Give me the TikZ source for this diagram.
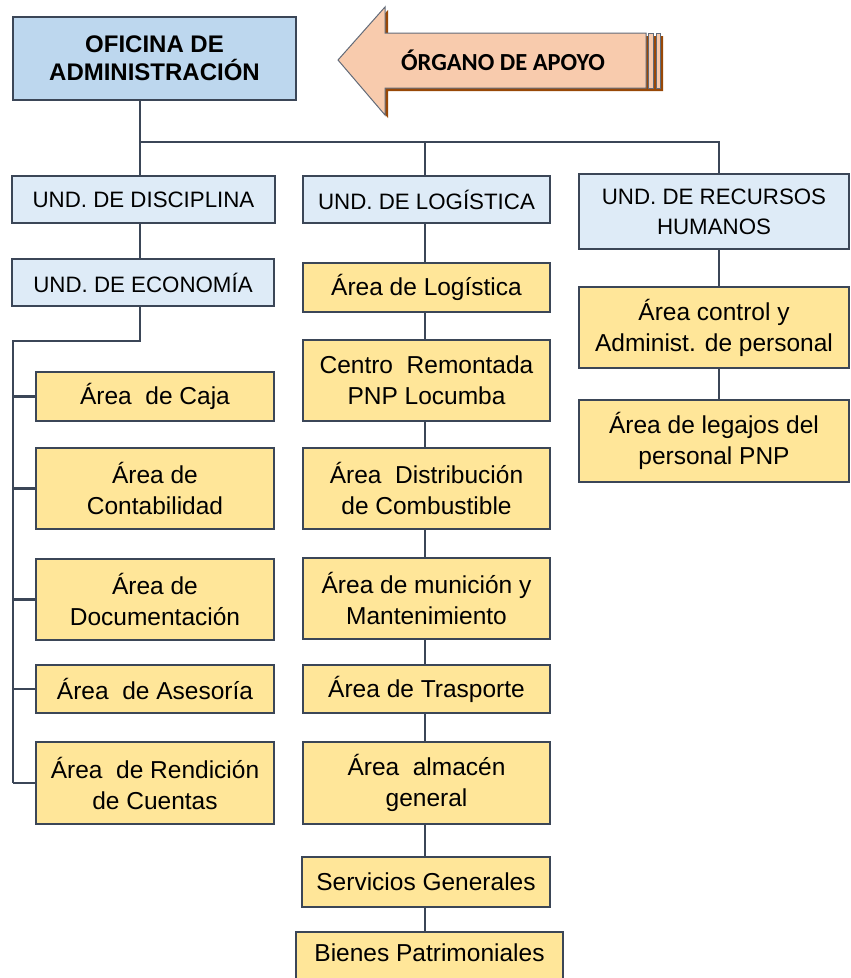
\documentclass[tikz,border=0pt]{standalone}
\usepackage{fontspec}
\setmainfont{Liberation Sans}
\newfontfamily\calibfont{Carlito}
\usepackage{xcolor}
\usetikzlibrary{positioning,calc}

\definecolor{topblue}{HTML}{BDD7EE}
\definecolor{unitblue}{HTML}{DEEBF7}
\definecolor{areayellow}{HTML}{FFE699}
\definecolor{edgegray}{HTML}{3B4657}
\definecolor{arrowpeach}{HTML}{F8CBAD}
\definecolor{arrowshadow}{HTML}{984807}

\begin{document}
\begin{tikzpicture}[
  x=1pt, y=-1pt,
  office/.style={draw=edgegray, line width=2.4pt, fill=topblue, minimum width=283pt, minimum height=83pt, inner sep=0pt, align=center, font=\fontsize{24}{28}\selectfont\bfseries},
  unit/.style={draw=edgegray, line width=1.7pt, fill=unitblue, minimum height=47pt, inner sep=0pt, align=center, font=\fontsize{22.3}{30}\selectfont},
  area/.style={draw=edgegray, line width=1.7pt, fill=areayellow, inner sep=0pt, align=center, font=\fontsize{24.5}{31}\selectfont},
  conn/.style={draw=edgegray, line width=2.8pt}
]
  \useasboundingbox (0,0) rectangle (851,978);
  \clip (0,0) rectangle (851,978);

  % Head office
  \node[office] (ofi) at (154.5, 58.5) {OFICINA DE\\ADMINISTRACIÓN};

  % Support arrow
  \draw[fill=arrowshadow, draw=none, shift={(3,3)}]
    (338,60) -- (385,7) -- (385,33) -- (660,33) -- (660,88) -- (385,88) -- (385,115) -- cycle;
  \draw[fill=arrowpeach, draw=edgegray!80, line width=1pt]
    (338,60) -- (385,7) -- (385,33) -- (646,33) -- (646,88) -- (385,88) -- (385,115) -- cycle;
  \draw[fill=arrowpeach, draw=edgegray!80, line width=0.8pt] (648,33) rectangle (653,88);
  \draw[fill=arrowpeach, draw=edgegray!80, line width=0.8pt] (656,33) rectangle (660,88);
  \node[font=\calibfont\fontsize{24.5}{28}\selectfont\bfseries] (apoyo) at (503, 60) {ÓRGANO DE APOYO};

  % Units
  \node[unit, minimum width=263pt] (disc) at (143.5, 199.5) {UND. DE DISCIPLINA};
  \node[unit, minimum width=262pt] (eco) at (143, 282.5) {UND. DE ECONOMÍA};
  \node[unit, minimum width=247pt] (log) at (426.5, 199.5) {UND. DE LOGÍSTICA};
  \node[unit, minimum width=270pt, minimum height=75pt] (rrhh) at (714, 211.5) {UND. DE RECURSOS\\HUMANOS};

  % Economy areas
  \node[area, minimum width=238pt, minimum height=49pt] (caja) at (155, 396.5) {Área~ de Caja};
  \node[area, minimum width=238pt, minimum height=81pt] (conta) at (155, 488.5) {Área de\\Contabilidad};
  \node[area, minimum width=238pt, minimum height=81pt] (docu) at (155, 599.5) {Área de\\Documentación};
  \node[area, minimum width=238pt, minimum height=48pt] (ase) at (155, 689) {Área~ de Asesoría};
  \node[area, minimum width=238pt, minimum height=82pt] (rend) at (155, 783) {Área~ de Rendición\\de Cuentas};

  % Logistics areas
  \node[area, minimum width=247pt, minimum height=49pt] (alog) at (426.5, 287.5) {Área de Logística};
  \node[area, minimum width=247pt, minimum height=81pt] (centro) at (426.5, 380.5) {Centro~ Remontada\\PNP Locumba};
  \node[area, minimum width=247pt, minimum height=81pt] (comb) at (426.5, 488.5) {Área~ Distribución\\de Combustible};
  \node[area, minimum width=247pt, minimum height=81pt] (muni) at (426.5, 598.5) {Área de munición y\\Mantenimiento};
  \node[area, minimum width=247pt, minimum height=48pt] (tras) at (426.5, 689) {Área de Trasporte};
  \node[area, minimum width=247pt, minimum height=82pt] (alma) at (426.5, 783) {Área~ almacén\\general};
  \node[area, minimum width=248pt, minimum height=50pt] (serv) at (426, 882) {Servicios Generales};
  \node[area, minimum width=267pt, minimum height=58pt, text depth=17pt] (bien) at (429.5, 961) {Bienes Patrimoniales};

  % Human resources areas
  \node[area, minimum width=270pt, minimum height=81pt] (ctrl) at (714, 327.5) {Área control y\\Administ. de personal};
  \node[area, minimum width=270pt, minimum height=82pt] (leg) at (714, 441) {Área de legajos del\\personal PNP};

  % Connectors
  \coordinate (j0) at (140, 142);
  \coordinate (bus) at (13, 341);
  \draw[conn] (ofi.south -| j0) -- (disc.north -| j0);
  \draw[conn] (j0) -| (log.north -| 425,0);
  \draw[conn] (j0) -| (rrhh.north -| 719,0);
  \draw[conn] (disc.south -| j0) -- (eco.north -| j0);
  \draw[conn] (eco.south -| j0) |- (bus) -- (bus |- rend.west);
  \foreach \n in {caja,conta,docu,ase,rend}
    \draw[conn] (\n.west -| bus) -- (\n.west);
  \foreach \a/\b in {log/alog,alog/centro,centro/comb,comb/muni,muni/tras,tras/alma,alma/serv,serv/bien}
    \draw[conn] (\a.south -| 425,0) -- (\b.north -| 425,0);
  \foreach \a/\b in {rrhh/ctrl,ctrl/leg}
    \draw[conn] (\a.south -| 719,0) -- (\b.north -| 719,0);
\end{tikzpicture}
\end{document}
